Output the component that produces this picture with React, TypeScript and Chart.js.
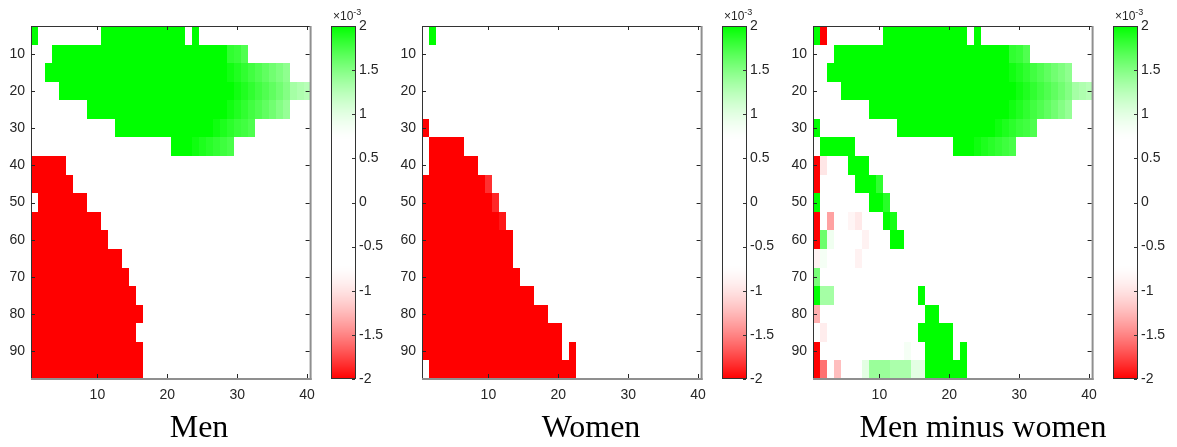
import React, { useEffect, useRef } from "react";
import { Chart, registerables } from "chart.js";
Chart.register(...registerables);

// ---------- data (values in units of 1e-3) ----------
const columnIndex = [1, 2, 3, 4, 5, 6, 7, 8, 9, 10, 11, 12, 13, 14, 15, 16, 17, 18, 19, 20, 21, 22, 23, 24, 25, 26, 27, 28, 29, 30, 31, 32, 33, 34, 35, 36, 37, 38, 39, 40];
const ageBins = [5, 10, 15, 20, 25, 30, 35, 40, 45, 50, 55, 60, 65, 70, 75, 80, 85, 90, 95];
const xTicks = [10, 20, 30, 40];
const yTicks = [10, 20, 30, 40, 50, 60, 70, 80, 90];
const colorbarTicks = [-2, -1.5, -1, -0.5, 0, 0.5, 1, 1.5, 2];
const panelTitles = ["Men", "Women", "Men minus women"];

// runs: [ageBin, firstColumn, lastColumn, value]
const menRuns: [number, number, number, number][] = [
  [5, 1, 1, 2.5], [5, 11, 22, 2.5], [5, 24, 24, 2.5],
  [10, 4, 28, 2.5], [15, 3, 28, 2.5], [20, 5, 29, 2.5], [25, 9, 28, 2.5],
  [30, 13, 26, 2.5], [35, 21, 23, 2.5],
  [40, 1, 5, -2.5], [45, 1, 6, -2.5], [50, 2, 8, -2.5], [55, 1, 10, -2.5],
  [60, 1, 11, -2.5], [65, 1, 13, -2.5], [70, 1, 14, -2.5], [75, 1, 15, -2.5],
  [80, 1, 16, -2.5], [85, 1, 15, -2.5], [90, 1, 16, -2.5], [95, 1, 16, -2.5],
];
// ramps: [ageBin, firstColumn, values of consecutive columns]
const menRamps: [number, number, number[]][] = [
  [10, 29, [1.83, 1.8, 1.71]],
  [15, 29, [1.94, 1.89, 1.83, 1.77, 1.71, 1.65, 1.58, 1.52, 1.45]],
  [20, 30, [1.94, 1.89, 1.83, 1.77, 1.71, 1.65, 1.58, 1.5, 1.35, 1.3, 1.26]],
  [25, 29, [1.94, 1.89, 1.83, 1.77, 1.71, 1.65, 1.58, 1.5, 1.42]],
  [30, 27, [1.95, 1.9, 1.85, 1.8, 1.77, 1.72]],
  [35, 24, [1.95, 1.9, 1.86, 1.82, 1.78, 1.74]],
];

const womenRuns: [number, number, number, number][] = [
  [5, 2, 2, 2.5],
  [30, 1, 1, -2.5], [35, 2, 6, -2.5], [40, 2, 8, -2.5], [45, 1, 9, -2.5],
  [50, 1, 10, -2.5], [55, 1, 11, -2.5], [60, 1, 13, -2.5], [65, 1, 13, -2.5],
  [70, 1, 14, -2.5], [75, 1, 16, -2.5], [80, 1, 18, -2.5], [85, 1, 20, -2.5],
  [90, 1, 20, -2.5], [90, 22, 22, -2.5], [95, 2, 22, -2.5],
];
const womenRamps: [number, number, number[]][] = [
  [45, 10, [-1.83]], [50, 11, [-1.86]], [55, 12, [-1.92]],
];

const diffRuns: [number, number, number, number][] = [
  [5, 1, 1, 2.5], [5, 2, 2, -2.5], [5, 11, 22, 2.5], [5, 24, 24, 2.5],
  [10, 4, 28, 2.5], [15, 3, 28, 2.5], [20, 5, 29, 2.5], [25, 9, 28, 2.5],
  [30, 1, 1, 2.5], [30, 13, 26, 2.5],
  [35, 2, 6, 2.5], [35, 21, 23, 2.5],
  [40, 1, 1, -2.5], [40, 6, 8, 2.5],
  [45, 1, 1, -2.5], [45, 7, 9, 2.5],
  [50, 1, 1, 2.5], [50, 9, 10, 2.5],
  [55, 1, 1, -2.5], [55, 11, 11, 2.5],
  [60, 1, 1, -2.5], [60, 12, 13, 2.5],
  [75, 1, 1, 2.5], [75, 16, 16, 2.5],
  [80, 17, 18, 2.5],
  [85, 16, 20, 2.5],
  [90, 1, 1, -2.5], [90, 17, 20, 2.5], [90, 22, 22, 2.5],
  [95, 1, 1, -2.5], [95, 17, 22, 2.5],
];
const diffRamps: [number, number, number[]][] = [
  [10, 29, [1.83, 1.8, 1.71]],
  [15, 29, [1.94, 1.89, 1.83, 1.77, 1.71, 1.65, 1.58, 1.52, 1.45]],
  [20, 30, [1.94, 1.89, 1.83, 1.77, 1.71, 1.65, 1.58, 1.5, 1.35, 1.3, 1.26]],
  [25, 29, [1.94, 1.89, 1.83, 1.77, 1.71, 1.65, 1.58, 1.5, 1.42]],
  [30, 27, [1.95, 1.9, 1.85, 1.8, 1.77, 1.72]],
  [35, 24, [1.95, 1.9, 1.86, 1.82, 1.78, 1.74]],
  [40, 2, [-0.98]],
  [45, 10, [1.83]],
  [50, 11, [1.86]],
  [55, 3, [-1.37]], [55, 6, [-0.85, -0.95]], [55, 12, [1.92]],
  [60, 2, [1.6, 0.9]], [60, 8, [-0.88]],
  [65, 1, [-0.88, 0.85]], [65, 7, [-0.88]],
  [70, 1, [1.55]],
  [75, 2, [1.35, 1.35]],
  [80, 1, [-1.3]],
  [85, 2, [-0.92]],
  [90, 14, [0.85]],
  [95, 2, [-1.58, 0, -1.22]],
  [95, 8, [1.0, 1.4, 1.4, 1.4, 1.32, 1.32, 1.32, 1.0, 1.0]],
];

// ---------- helpers ----------
type Cell = { x: number; y: number; v: number };
function buildCells(runs: [number, number, number, number][], ramps: [number, number, number[]][]): Cell[] {
  const cells: Cell[] = [];
  for (const [bin, from, to, v] of runs) {
    for (const c of columnIndex) if (c >= from && c <= to) cells.push({ x: c, y: bin, v });
  }
  for (const [bin, start, vals] of ramps) vals.forEach((v, i) => cells.push({ x: start + i, y: bin, v }));
  return cells.filter((c) => ageBins.includes(c.y));
}

function colorFor(v: number): string {
  const a = Math.abs(v);
  if (a <= 0.7) return "rgb(255,255,255)";
  const s = Math.min((a - 0.7) / 1.3, 1);
  const t = Math.pow(s, 1.5);
  const o = Math.round(255 * (1 - t));
  return v > 0 ? `rgb(${o},255,${o})` : `rgb(255,${o},${o})`;
}

const AXIS = "#262626";
const TICK_FONT = { family: "Liberation Sans", size: 14 };

const heatPlugin = {
  id: "heatCells",
  beforeDatasetsDraw(chart: any) {
    const { ctx, scales } = chart;
    const x = scales.x, y = scales.y;
    const pts: Cell[] = chart.data.datasets[0].data;
    ctx.save();
    for (const p of pts) {
      const x0 = Math.round(x.getPixelForValue(p.x - 0.5));
      const x1 = Math.round(x.getPixelForValue(p.x + 0.5));
      const ya = Math.round(y.getPixelForValue(p.y - 2.5));
      const yb = Math.round(y.getPixelForValue(p.y + 2.5));
      ctx.fillStyle = colorFor(p.v);
      ctx.fillRect(x0, Math.min(ya, yb), x1 - x0, Math.abs(yb - ya));
    }
    ctx.restore();
  },
  afterDraw(chart: any) {
    const { ctx, chartArea: a, scales } = chart;
    const x = scales.x, y = scales.y;
    ctx.save();
    ctx.fillStyle = "#333333";
    ctx.fillRect(a.left, a.top, 1, a.bottom - a.top);
    ctx.fillRect(a.left, a.top, a.right - a.left, 1);
    ctx.fillStyle = "#8f8f8f";
    ctx.fillRect(a.right - 1, a.top, 2, a.bottom - a.top + 1);
    ctx.fillRect(a.left, a.bottom - 1, a.right - a.left + 1, 2);
    ctx.strokeStyle = AXIS;
    ctx.lineWidth = 1;
    const L = 4;
    ctx.beginPath();
    for (const t of xTicks) {
      const px = Math.round(x.getPixelForValue(t)) + 0.5;
      ctx.moveTo(px, a.bottom - 1); ctx.lineTo(px, a.bottom - 1 - L);
      ctx.moveTo(px, a.top); ctx.lineTo(px, a.top + L);
    }
    for (const t of yTicks) {
      const py = Math.round(y.getPixelForValue(t)) + 0.5;
      ctx.moveTo(a.left, py); ctx.lineTo(a.left + L, py);
      ctx.moveTo(a.right - 1, py); ctx.lineTo(a.right - 1 - L, py);
    }
    ctx.stroke();
    ctx.restore();
  },
};

const colorbarPlugin = {
  id: "colorbarFill",
  beforeDatasetsDraw(chart: any) {
    const { ctx, chartArea: a, scales } = chart;
    const y = scales.y;
    ctx.save();
    for (let py = Math.floor(a.top); py < a.bottom; py++) {
      ctx.fillStyle = colorFor(y.getValueForPixel(py + 0.5));
      ctx.fillRect(a.left, py, a.right - a.left, 1);
    }
    ctx.strokeStyle = "#333333";
    ctx.lineWidth = 1;
    ctx.strokeRect(a.left + 0.5, a.top + 0.5, a.right - a.left - 1, a.bottom - a.top - 1);
    ctx.beginPath();
    for (const t of colorbarTicks) {
      const py = Math.round(y.getPixelForValue(t)) + 0.5;
      ctx.moveTo(a.right - 1, py); ctx.lineTo(a.right - 4, py);
    }
    ctx.stroke();
    ctx.restore();
  },
};

function heatConfig(cells: Cell[]): any {
  return {
    type: "scatter",
    data: { datasets: [{ data: cells, pointRadius: 0, pointHoverRadius: 0 }] },
    options: {
      animation: false,
      responsive: false,
      maintainAspectRatio: false,
      events: [],
      layout: { padding: { left: 0, right: 9, top: 26, bottom: 38 } },
      plugins: { legend: { display: false }, tooltip: { enabled: false } },
      scales: {
        x: {
          type: "linear", min: 0.5, max: 40.5,
          afterBuildTicks: (s: any) => { s.ticks = xTicks.map((v) => ({ value: v })); },
          afterFit: (s: any) => { s.height = 30; },
          grid: { display: false, drawTicks: false },
          border: { display: false },
          ticks: { padding: 8, color: AXIS, font: TICK_FONT, maxRotation: 0, autoSkip: false, callback: (v: any) => String(v) },
        },
        y: {
          type: "linear", reverse: true, min: 2.5, max: 97.5,
          afterBuildTicks: (s: any) => { s.ticks = yTicks.map((v) => ({ value: v })); },
          afterFit: (s: any) => { s.width = 31; },
          grid: { display: false, drawTicks: false },
          border: { display: false },
          ticks: { padding: 6, color: AXIS, font: TICK_FONT, autoSkip: false, callback: (v: any) => String(v) },
        },
      },
    },
    plugins: [heatPlugin],
  };
}

function colorbarConfig(): any {
  return {
    type: "scatter",
    data: { datasets: [{ data: [], pointRadius: 0 }] },
    options: {
      animation: false,
      responsive: false,
      maintainAspectRatio: false,
      events: [],
      layout: { padding: { left: 6, right: 0, top: 26, bottom: 68 } },
      plugins: { legend: { display: false }, tooltip: { enabled: false } },
      scales: {
        x: { type: "linear", display: false, min: 0, max: 1 },
        y: {
          type: "linear", position: "right", min: -2, max: 2,
          afterBuildTicks: (s: any) => { s.ticks = colorbarTicks.map((v) => ({ value: v })); },
          afterFit: (s: any) => { s.width = 31; },
          grid: { display: false, drawTicks: false },
          border: { display: false },
          ticks: { padding: 3, color: AXIS, font: TICK_FONT, autoSkip: false, callback: (v: any) => String(v) },
        },
      },
    },
    plugins: [colorbarPlugin],
  };
}

function ChartCanvas({ config, left, top, width, height }: any) {
  const ref = useRef<HTMLCanvasElement>(null);
  useEffect(() => {
    const chart = new Chart(ref.current as HTMLCanvasElement, config);
    return () => chart.destroy();
  }, []);
  return (
    <canvas
      ref={ref}
      width={width}
      height={height}
      style={{ position: "absolute", left, top, width, height }}
    />
  );
}

const panelData = [
  { cells: buildCells(menRuns, menRamps), plotLeft: 31, cbLeft: 331, titleCenter: 199 },
  { cells: buildCells(womenRuns, womenRamps), plotLeft: 422, cbLeft: 722, titleCenter: 591 },
  { cells: buildCells(diffRuns, diffRamps), plotLeft: 813, cbLeft: 1113, titleCenter: 983 },
];

export default function App() {
  return (
    <div style={{ position: "absolute", left: 0, top: 0, width: 1177, height: 447, background: "#ffffff", overflow: "hidden" }}>
      {panelData.map((p, i) => (
        <React.Fragment key={i}>
          <ChartCanvas config={heatConfig(p.cells)} left={p.plotLeft - 31} top={0} width={323} height={447} />
          <ChartCanvas config={colorbarConfig()} left={p.cbLeft - 6} top={0} width={62} height={447} />
          <div
            style={{
              position: "absolute", left: p.cbLeft + 2, top: 10, fontFamily: "Liberation Sans",
              fontSize: 12, lineHeight: "12px", color: AXIS, whiteSpace: "nowrap",
            }}
          >
            ×10<span style={{ fontSize: 9, position: "relative", top: -5 }}>-3</span>
          </div>
          <div
            style={{
              position: "absolute", left: p.titleCenter - 200, width: 400, top: 410, textAlign: "center",
              fontFamily: "Liberation Serif", fontSize: 32, lineHeight: "32px", color: "#000",
            }}
          >
            {panelTitles[i]}
          </div>
        </React.Fragment>
      ))}
    </div>
  );
}
